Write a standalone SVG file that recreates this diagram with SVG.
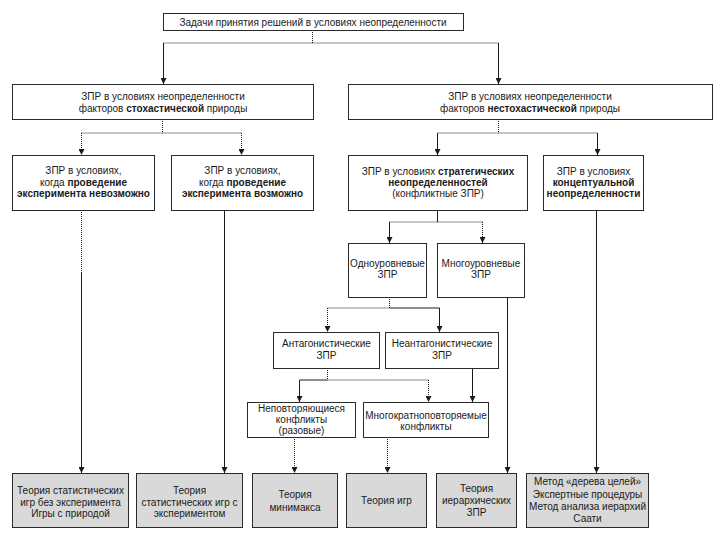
<svg xmlns="http://www.w3.org/2000/svg" width="727" height="549" viewBox="0 0 727 549">
<style>
.box{fill:#fff;stroke:#2a2a2a;stroke-width:1}
.leaf{fill:#d9d9d9;stroke:#2a2a2a;stroke-width:1}
text{font-family:"Liberation Sans",Arial,sans-serif;font-size:10px;fill:#1a1a1a;text-anchor:middle}
.b{font-weight:bold}
.s{fill:none;stroke:#1a1a1a;stroke-width:1}
.d{fill:none;stroke:#1a1a1a;stroke-width:1;stroke-dasharray:1,1}
.a{marker-end:url(#arr)}
</style>
<defs>
<marker id="arr" markerUnits="userSpaceOnUse" markerWidth="6" markerHeight="6" refX="6" refY="3" orient="auto" viewBox="0 0 6 6">
<path d="M0,0 L6,3 L0,6 Z" fill="#1a1a1a"/>
</marker>
</defs>
<rect width="727" height="549" fill="#fff"/>
<g id="connectors">
<path class="d" d="M312.5,30 V43 M163.5,43 H498.5"/>
<path class="s a" d="M163.5,43 V84"/>
<path class="s a" d="M498.5,43 V84"/>
<path class="d" d="M162.5,119 V133 H81.5 M162.5,133 H241.5"/>
<path class="d a" d="M81.5,133 V155"/>
<path class="d a" d="M241.5,133 V155"/>
<path class="d" d="M498.5,119 V133 H437.5 M498.5,133 H597.5"/>
<path class="s a" d="M437.5,133 V155"/>
<path class="s a" d="M597.5,133 V155"/>
<path class="s" d="M437.5,210 V222"/>
<path class="d" d="M389.5,222 H482.5"/>
<path class="s a" d="M389.5,222 V243"/>
<path class="d a" d="M482.5,222 V243"/>
<path class="d" d="M389.5,297 V308 H327.5"/>
<path class="s" d="M389.5,308 H439.5"/>
<path class="d a" d="M327.5,308 V332"/>
<path class="s a" d="M439.5,308 V332"/>
<path class="d" d="M327.5,368 V380 H428.5"/>
<path class="s" d="M327.5,380 H299.5"/>
<path class="s a" d="M299.5,380 V402"/>
<path class="d a" d="M428.5,380 V402"/>
<path class="s a" d="M472.5,368 V402"/>
<path class="d" d="M81.5,210 V272"/>
<path class="s a" d="M81.5,272 V473"/>
<path class="s a" d="M224.5,210 V473"/>
<path class="d a" d="M294.5,437 V473"/>
<path class="d a" d="M387.5,437 V473"/>
<path class="s a" d="M507.5,297 V473"/>
<path class="s a" d="M596.5,210 V473"/>
</g>
<g id="n_root"><rect class="box" x="163.5" y="13.5" width="300" height="17"/>
<text x="313" y="25.5">Задачи принятия решений в условиях неопределенности</text></g>
<g id="n_stoch"><rect class="box" x="12.5" y="84.5" width="301" height="35"/>
<text x="163" y="100">ЗПР в условиях неопределенности</text>
<text x="163" y="111.5">факторов <tspan class="b">стохастической</tspan> природы</text></g>
<g id="n_nonstoch"><rect class="box" x="348.5" y="84.5" width="364" height="35"/>
<text x="530" y="100">ЗПР в условиях неопределенности</text>
<text x="530" y="111.5">факторов <tspan class="b">нестохастической</tspan> природы</text></g>
<g id="n_noexp"><rect class="box" x="12.5" y="155.5" width="142" height="55"/>
<text x="83.5" y="174">ЗПР в условиях,</text>
<text x="83.5" y="186"><tspan>когда </tspan><tspan class="b">проведение</tspan></text>
<text x="83.5" y="197" class="b">эксперимента невозможно</text></g>
<g id="n_exp"><rect class="box" x="171.5" y="155.5" width="142" height="55"/>
<text x="242.5" y="174">ЗПР в условиях,</text>
<text x="242.5" y="186"><tspan>когда </tspan><tspan class="b">проведение</tspan></text>
<text x="242.5" y="197" class="b">эксперимента возможно</text></g>
<g id="n_strat"><rect class="box" x="348.5" y="155.5" width="179" height="55"/>
<text x="438" y="174.5">ЗПР в условиях <tspan class="b">стратегических</tspan></text>
<text x="438" y="185.5" class="b">неопределенностей</text>
<text x="438" y="196.5">(конфликтные ЗПР)</text></g>
<g id="n_concept"><rect class="box" x="543.5" y="155.5" width="100" height="55"/>
<text x="593.5" y="174.5">ЗПР в условиях</text>
<text x="593.5" y="185.5" class="b">концептуальной</text>
<text x="593.5" y="196.5" class="b">неопределенности</text></g>
<g id="n_single"><rect class="box" x="348.5" y="243.5" width="78" height="54"/>
<text x="387.5" y="267">Одноуровневые</text>
<text x="387.5" y="278">ЗПР</text></g>
<g id="n_multi"><rect class="box" x="437.5" y="243.5" width="87" height="54"/>
<text x="481" y="267">Многоуровневые</text>
<text x="481" y="278">ЗПР</text></g>
<g id="n_antag"><rect class="box" x="273.5" y="332.5" width="106" height="36"/>
<text x="326.5" y="347">Антагонистические</text>
<text x="326.5" y="358.5">ЗПР</text></g>
<g id="n_nonantag"><rect class="box" x="385.5" y="332.5" width="113" height="36"/>
<text x="442" y="347">Неантагонистические</text>
<text x="442" y="358.5">ЗПР</text></g>
<g id="n_once"><rect class="box" x="247.5" y="402.5" width="108" height="35"/>
<text x="301.5" y="412">Неповторяющиеся</text>
<text x="301.5" y="423">конфликты</text>
<text x="301.5" y="434">(разовые)</text></g>
<g id="n_repeat"><rect class="box" x="363.5" y="402.5" width="125" height="35"/>
<text x="426" y="418.5">Многократноповторяемые</text>
<text x="426" y="430">конфликты</text></g>
<g id="n_t1"><rect class="leaf" x="12.5" y="473.5" width="116" height="54"/>
<text x="70.5" y="494">Теория статистических</text>
<text x="70.5" y="505.5">игр без эксперимента</text>
<text x="70.5" y="517">Игры с природой</text></g>
<g id="n_t2"><rect class="leaf" x="136.5" y="473.5" width="106" height="54"/>
<text x="189.5" y="494">Теория</text>
<text x="189.5" y="505.5">статистических игр с</text>
<text x="189.5" y="517">экспериментом</text></g>
<g id="n_t3"><rect class="leaf" x="252.5" y="473.5" width="85" height="54"/>
<text x="295" y="498">Теория</text>
<text x="295" y="510.5">минимакса</text></g>
<g id="n_t4"><rect class="leaf" x="346.5" y="473.5" width="80" height="54"/>
<text x="386.5" y="504">Теория игр</text></g>
<g id="n_t5"><rect class="leaf" x="436.5" y="473.5" width="80" height="54"/>
<text x="476.5" y="492">Теория</text>
<text x="476.5" y="504">иерархических</text>
<text x="476.5" y="516">ЗПР</text></g>
<g id="n_t6"><rect class="leaf" x="526.5" y="473.5" width="122" height="54"/>
<text x="587.5" y="485">Метод «дерева целей»</text>
<text x="587.5" y="497.5">Экспертные процедуры</text>
<text x="587.5" y="510">Метод анализа иерархий</text>
<text x="587.5" y="522">Саати</text></g>
</svg>
